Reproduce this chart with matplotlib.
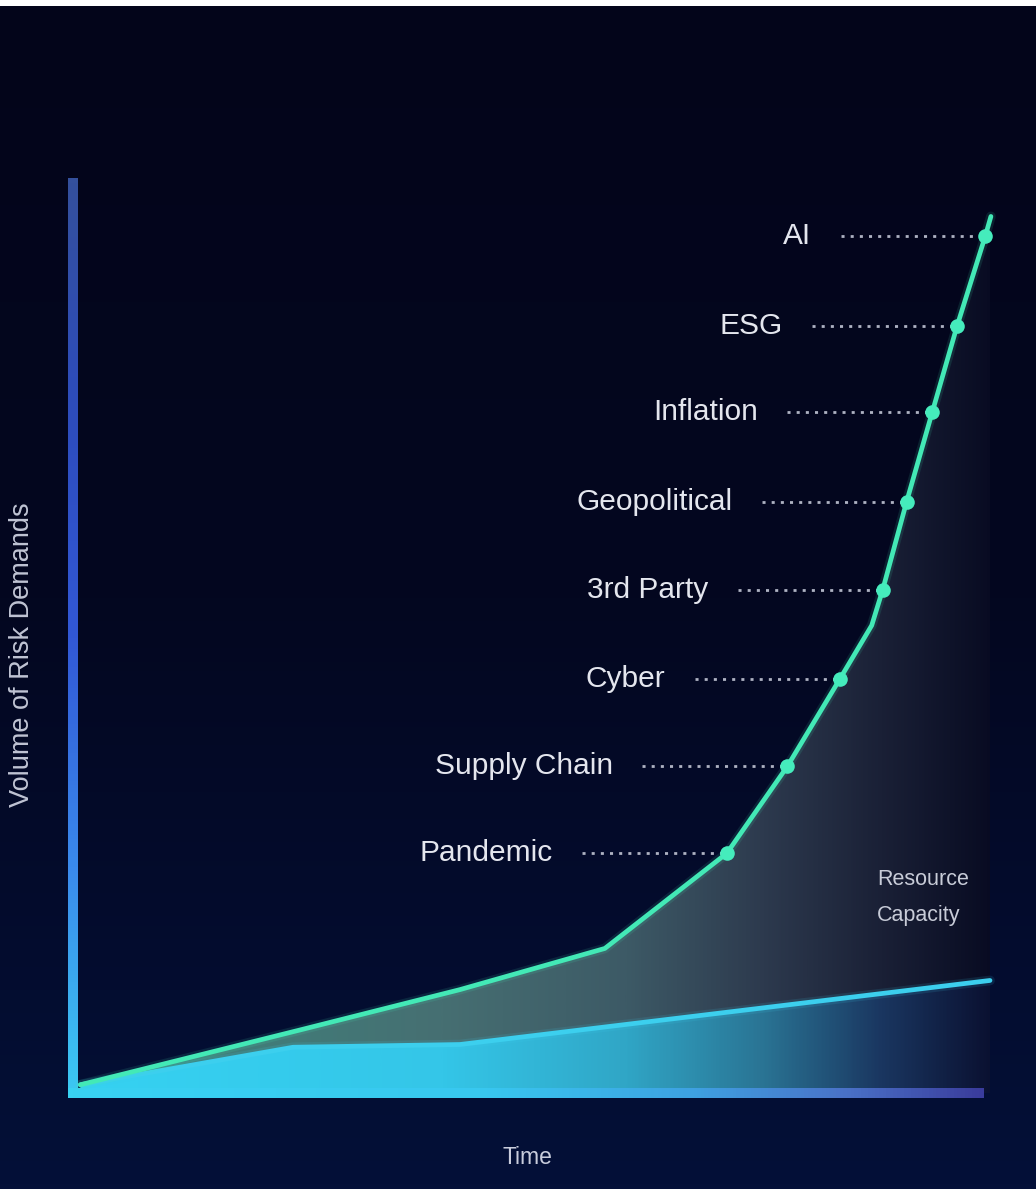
import numpy as np
import matplotlib
matplotlib.use("Agg")
import matplotlib.pyplot as plt
from matplotlib.colors import LinearSegmentedColormap

plt.rcParams['font.family'] = ['Liberation Sans', 'DejaVu Sans']

# demand curve (time, volume) incl. the breakpoints between risk markers
demand_time = [0.8, 24.8, 42.2, 58.0, 71.3, 77.9, 83.6, 87.1, 88.3, 90.9, 93.7, 96.4, 99.5, 100.1]
demand_volume = [0.9, 6.9, 11.3, 15.8, 26.2, 35.7, 45.2, 51.1, 55.0, 64.6, 74.4, 83.8, 93.7, 95.8]

# resource capacity curve
resource_time = [0.8, 24.0, 42.2, 100.0]
resource_volume = [0.9, 5.0, 5.3, 12.3]

risks = ["Pandemic", "Supply Chain", "Cyber", "3rd Party",
         "Geopolitical", "Inflation", "ESG", "AI"]
risk_time = [71.3, 77.9, 83.6, 88.3, 90.9, 93.7, 96.4, 99.5]
risk_volume = [26.2, 35.7, 45.2, 55.0, 64.6, 74.4, 83.8, 93.7]

W, H = 1036, 1189
fig = plt.figure(figsize=(W / 100, H / 100), dpi=100)
fig.patch.set_facecolor('white')

# dark navy backdrop, slightly bluer towards the bottom
bg = fig.add_axes([0, 0, 1, 1 - 6 / H])
bg.axis('off')
bg_cmap = LinearSegmentedColormap.from_list('bg', ['#041038', '#030720', '#03051a'])
bg.imshow(np.linspace(0, 1, 256)[:, None], cmap=bg_cmap, aspect='auto',
          origin='lower', extent=[0, 1, 0, 1])

ax = fig.add_axes([73 / W, 96 / H, 917 / W, 915 / H])
ax.patch.set_alpha(0)
ax.axis('off')

gap_cmap = LinearSegmentedColormap.from_list('gap', [
    (0.0, '#3c8a80'), (0.40, '#466f72'), (0.60, '#3d5a66'),
    (0.75, '#2d3a4e'), (0.88, '#1a2036'), (1.0, '#080b22')])
base_cmap = LinearSegmentedColormap.from_list('base', [
    (0.0, '#36d2f2'), (0.40, '#34c6e8'), (0.60, '#30a6c6'),
    (0.75, '#2a7494'), (0.88, '#1a3660'), (1.0, '#0a1030')])


def gradient_fill(x, lo, hi, cmap, z):
    poly = ax.fill_between(x, lo, hi, facecolor='none', edgecolor='none')
    path = poly.get_paths()[0]
    img = cmap(np.linspace(0, 1, 500))[None, :, :]
    im = ax.imshow(img, extent=[0, 100.5, 0, 100], aspect='auto',
                   origin='lower', zorder=z, interpolation='bilinear')
    im.set_clip_path(path, transform=ax.transData)


xs = np.union1d(demand_time, resource_time)
d_interp = np.interp(xs, demand_time, demand_volume)
r_interp = np.interp(xs, resource_time, resource_volume)
gradient_fill(xs, r_interp, d_interp, gap_cmap, 1)
gradient_fill(resource_time, 0, resource_volume, base_cmap, 1)

# axis bars drawn as gradient strips (about 9px thick)
v_cmap = LinearSegmentedColormap.from_list(
    'vax', ['#3ccaf2', '#3a8aec', '#3258d6', '#2d4cbc', '#34509c'])
h_cmap = LinearSegmentedColormap.from_list(
    'hax', [(0.0, '#38d2f2'), (0.45, '#38c8f0'), (0.68, '#3ea2e2'),
            (0.85, '#4a72c8'), (1.0, '#3a3c9c')])
ax.imshow(np.linspace(0, 1, 300)[:, None], cmap=v_cmap, origin='lower',
          extent=[-0.55, 0.45, -0.5, 100], aspect='auto', zorder=5,
          clip_on=False, interpolation='bilinear')
ax.imshow(np.linspace(0, 1, 300)[None, :], cmap=h_cmap, origin='lower',
          extent=[-0.55, 99.3, -0.5, 0.5], aspect='auto', zorder=5,
          clip_on=False, interpolation='bilinear')

# resource line
ax.plot(resource_time, resource_volume, color='#3ccfee', lw=7, alpha=0.12,
        solid_capstyle='round', zorder=6, clip_on=False)
ax.plot(resource_time, resource_volume, color='#3ccfee', lw=3.4,
        solid_capstyle='round', zorder=7, clip_on=False)

# demand line
ax.plot(demand_time, demand_volume, color='#43e9b6', lw=7, alpha=0.12,
        solid_capstyle='round', zorder=8, clip_on=False)
ax.plot(demand_time, demand_volume, color='#43e9b6', lw=3.4,
        solid_capstyle='round', solid_joinstyle='round', zorder=9, clip_on=False)
ax.plot(risk_time, risk_volume, 'o', color='#45ecbc', ms=10.5, mec='none',
        zorder=10, clip_on=False)

for name, t, v in zip(risks, risk_time, risk_volume):
    ax.plot([t - 15.8, t - 0.6], [v, v], color='#aeb2c2', lw=2.0,
            dashes=(1.1, 2.2), zorder=8, clip_on=False)
    ax.text(t - 19.0, v, name, ha='right', va='center', fontsize=21.5,
            color='#e4e6ee', zorder=11)

ax.text(87.7, 21.4, "Resource\nCapacity", ha='left', va='center',
        fontsize=15.5, color='#c8ccd8', linespacing=1.95, zorder=11)

ax.set_xlim(0, 100)
ax.set_ylim(0, 100)

fig.text(22 / W, 1 - 655 / H, "Volume of Risk Demands", rotation=90,
         ha='center', va='center', fontsize=19.5, color='#c0c4d4')
fig.text(527 / W, 1 - 1158 / H, "Time", ha='center', va='center',
         fontsize=16.5, color='#c8ccdc')

fig.savefig('out.png', dpi=100, facecolor=fig.get_facecolor())
